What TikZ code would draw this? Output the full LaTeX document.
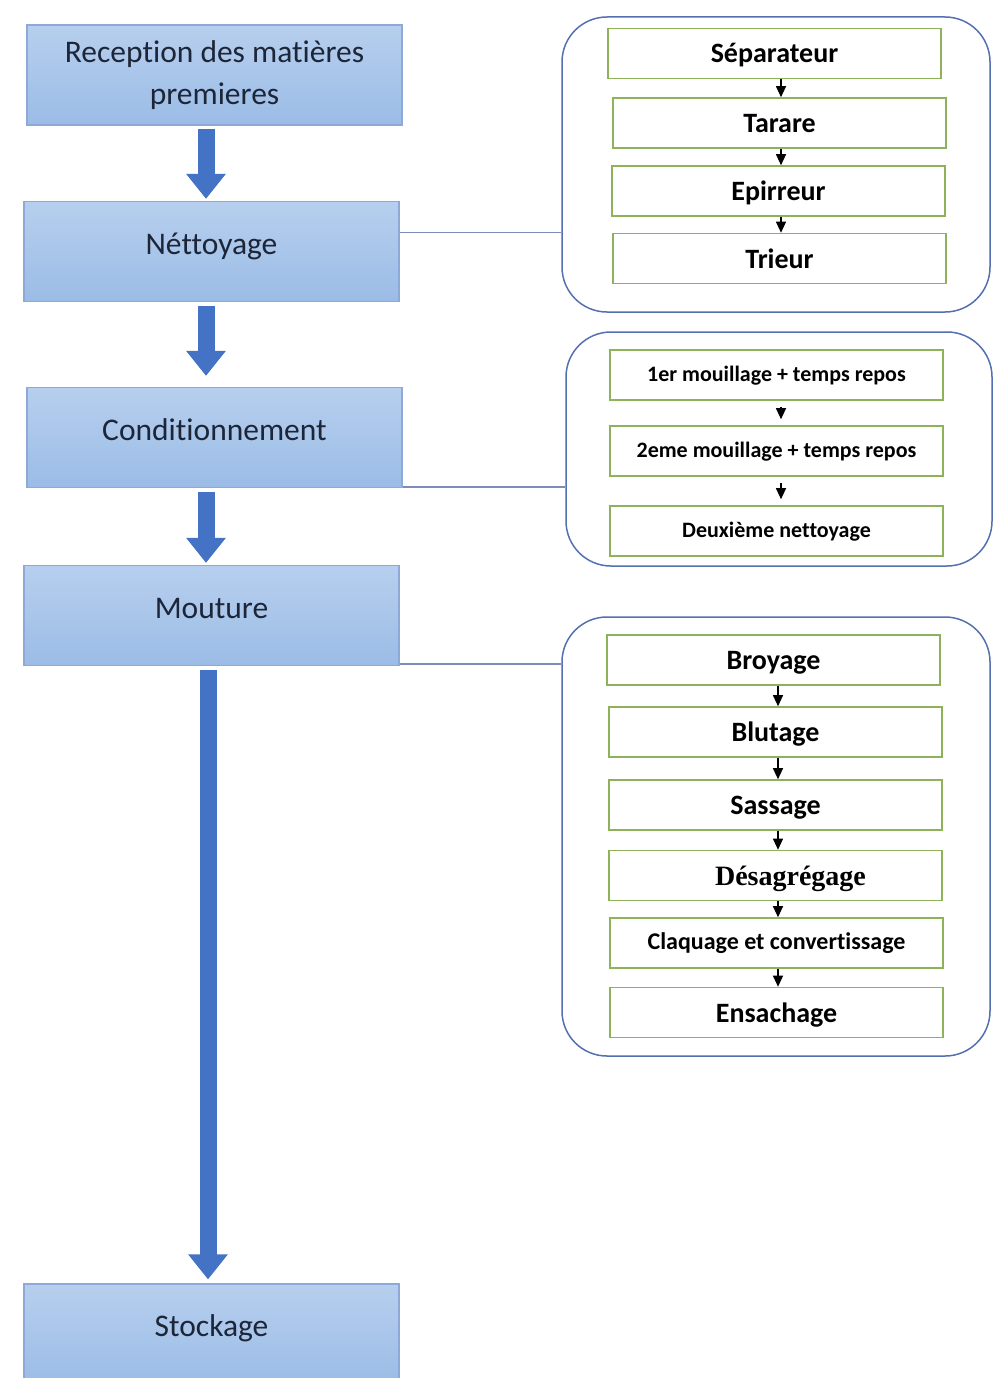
\documentclass[tikz,border=0pt]{standalone}
\usepackage{fontspec}
\setmainfont{Carlito}[Ligatures=NoCommon]
\newfontfamily\timesbold{Liberation Serif}
\usetikzlibrary{arrows.meta}
\definecolor{boxtop}{HTML}{B7CFEE}
\definecolor{boxbot}{HTML}{9BBCE6}
\definecolor{boxline}{HTML}{8EA9D8}
\definecolor{maintext}{HTML}{1C2638}
\definecolor{fatblue}{HTML}{4472C4}
\definecolor{groupline}{HTML}{5470B0}
\definecolor{linkline}{HTML}{7D8CB8}
\definecolor{stepgreen}{HTML}{8DB25A}
\tikzset{
  mainbox/.style={rectangle, draw=boxline, line width=1.2pt, top color=boxtop, bottom color=boxbot,
    minimum width=375pt, minimum height=100pt, inner sep=0pt, text=maintext,
    font=\fontsize{31.5}{42}\selectfont, align=center},
  oneline/.style={text height=22pt, text depth=17pt},
  groupbox/.style={rectangle, draw=groupline, line width=1.5pt, rounded corners=45pt,
    inner sep=0pt, fill=white},
  stepbox/.style={rectangle, draw=stepgreen, line width=1.6pt, fill=white,
    minimum width=333pt, minimum height=50pt, inner sep=0pt, text=black,
    font=\bfseries\fontsize{28}{32}\selectfont, text height=22pt, text depth=3pt},
  smallstep/.style={stepbox, font=\bfseries\fontsize{22}{26}\selectfont,
    text height=16pt, text depth=3pt},
  fatarrow/.style={draw=fatblue, line width=17pt,
    -{Triangle[width=38pt,length=25pt]}},
  tinyarrow/.style={draw=black, line width=1.1pt, -{Triangle[width=10pt,length=11pt]}},
  link/.style={draw=linkline, line width=1.4pt}
}
\begin{document}
\begin{tikzpicture}[x=1pt, y=-1pt]
\useasboundingbox[fill=white] (0,0) rectangle (996,1378);

% main process column
\node[mainbox] (rec)  at (214.5, 75)   {Reception des matières\\premieres};
\node[mainbox, oneline] (net)  at (211.5, 251.5) {Néttoyage};
\node[mainbox, oneline] (cond) at (214.5, 437.5) {Conditionnement};
\node[mainbox, oneline] (mou)  at (211.5, 615.5) {Mouture};
\node[mainbox, oneline] (sto)  at (211.5, 1334)  {Stockage};

% detail groups
\node[groupbox, minimum width=428pt, minimum height=295pt] (g1) at (776, 164.5) {};
\node[groupbox, minimum width=426pt, minimum height=234pt] (g2) at (779, 449) {};
\node[groupbox, minimum width=428pt, minimum height=439pt] (g3) at (776, 836.5) {};

% cleaning steps
\node[stepbox] (s1) at (774.5, 53.5)  {Séparateur};
\node[stepbox] (s2) at (779.5, 123)   {Tarare};
\node[stepbox] (s3) at (778.5, 191)   {Epirreur};
\node[stepbox] (s4) at (779.5, 258.5) {Trieur};

% conditioning steps
\node[smallstep] (c1) at (776.5, 375) {1er mouillage + temps repos};
\node[smallstep] (c2) at (776.5, 451) {2eme mouillage + temps repos};
\node[smallstep] (c3) at (776.5, 531) {Deuxième nettoyage};

% milling steps
\node[stepbox] (m1) at (773.5, 660)   {Broyage};
\node[stepbox] (m2) at (775.5, 732)   {Blutage};
\node[stepbox] (m3) at (775.5, 805)   {Sassage};
\node[stepbox, font=\timesbold\bfseries\fontsize{28}{32}\selectfont] (m4) at (775.5, 875.5) {\hspace*{30pt}Désagrégage};
\node[smallstep, font=\bfseries\fontsize{24}{28}\selectfont, text height=17pt, text depth=5pt] (m5) at (776.5, 943) {Claquage et convertissage};
\node[stepbox] (m6) at (776.5, 1012.5) {Ensachage};

% arrow columns
\coordinate (ka) at (206, 0);
\coordinate (kb) at (781, 0);
\coordinate (kc) at (781, 0);
\coordinate (kd) at (778, 0);

% main flow
\draw[fatarrow] ([yshift=-3pt]rec.south -| ka) -- ([yshift=2pt]net.north -| ka);
\draw[fatarrow] ([yshift=-4pt]net.south -| ka) -- ([yshift=11pt]cond.north -| ka);
\draw[fatarrow] ([yshift=-4pt]cond.south -| ka) -- ([yshift=2pt]mou.north -| ka);
\draw[fatarrow] ([yshift=-4pt,xshift=2pt]mou.south -| ka) -- ([yshift=4pt,xshift=2pt]sto.north -| ka);

% links to detail groups
\draw[link] ([yshift=19pt]net.east) -- ([yshift=19pt]net.east -| g1.west);
\draw[link] ([yshift=1pt]cond.south east) -- ([yshift=1pt]cond.south east -| g2.west);
\draw[link] ([yshift=2pt]mou.south east) -- ([yshift=2pt]mou.south east -| g3.west);

% step arrows
\draw[tinyarrow] (s1.south -| kb) -- (s2.north -| kb);
\draw[tinyarrow] (s2.south -| kb) -- (s3.north -| kb);
\draw[tinyarrow] (s3.south -| kb) -- (s4.north -| kb);

\draw[tinyarrow] ([yshift=-6pt]c1.south -| kc) -- ([yshift=6pt]c2.north -| kc);
\draw[tinyarrow] ([yshift=-6pt]c2.south -| kc) -- ([yshift=6pt]c3.north -| kc);

\draw[tinyarrow] (m1.south -| kd) -- (m2.north -| kd);
\draw[tinyarrow] (m2.south -| kd) -- (m3.north -| kd);
\draw[tinyarrow] (m3.south -| kd) -- (m4.north -| kd);
\draw[tinyarrow] (m4.south -| kd) -- (m5.north -| kd);
\draw[tinyarrow] (m5.south -| kd) -- (m6.north -| kd);
\end{tikzpicture}
\end{document}
